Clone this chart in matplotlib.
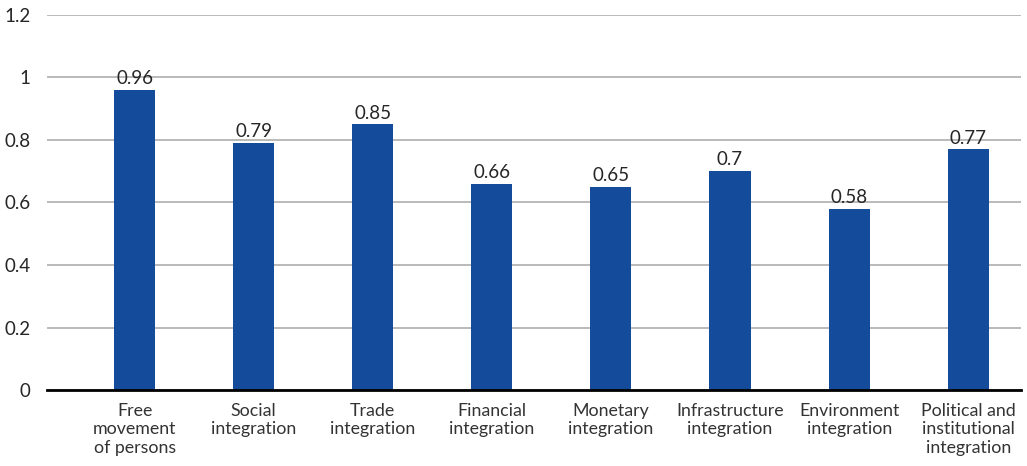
import numpy as np
import matplotlib.pyplot as plt

plt.rcParams['font.family'] = ['Lato', 'DejaVu Sans']

categories = ["Free\nmovement\nof persons", "Social\nintegration", "Trade\nintegration",
              "Financial\nintegration", "Monetary\nintegration", "Infrastructure\nintegration",
              "Environment\nintegration", "Political and\ninstitutional\nintegration"]
values = [0.96, 0.79, 0.85, 0.66, 0.65, 0.7, 0.58, 0.77]
yticks = [0, 0.2, 0.4, 0.6, 0.8, 1, 1.2]
ytick_labels = ["0", "0.2", "0.4", "0.6", "0.8", "1", "1.2"]

fig = plt.figure(figsize=(10.27, 4.66), dpi=100)
ax = fig.add_axes([0.0458, 0.163, 0.948, 0.805])

x = np.arange(len(categories))
bars = ax.bar(x, values, width=0.345, color='#144b9b', zorder=3)
for b, v in zip(bars, values):
    ax.annotate(f"{v:g}", (b.get_x() + b.get_width() / 2, v), xytext=(0, 2),
                textcoords='offset points', ha='center', va='bottom',
                fontsize=13.5, color='#262626')

ax.set_xlim(-0.735, 7.44)
ax.set_ylim(0, 1.2)
ax.set_yticks(yticks)
ax.set_yticklabels(ytick_labels)
ax.set_xticks(x)
ax.set_xticklabels(categories, linespacing=1.2)
ax.tick_params(axis='y', length=0, pad=12, labelsize=13.5, labelcolor='#262626')
ax.tick_params(axis='x', length=0, pad=9, labelsize=12.8, labelcolor='#333333')
ax.grid(axis='y', color='#b4b4b4', linewidth=1.3, zorder=0)
for s in ['top', 'right', 'left']:
    ax.spines[s].set_visible(False)
ax.spines['bottom'].set_linewidth(2)
ax.spines['bottom'].set_color('black')
ax.spines['bottom'].set_zorder(4)

fig.savefig('out.png', dpi=100)
